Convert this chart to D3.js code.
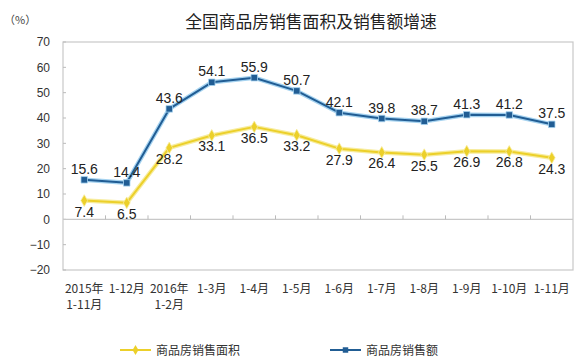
<!DOCTYPE html>
<html>
<head>
<meta charset="utf-8">
<script src="https://cdn.jsdelivr.net/npm/d3@7"></script>
<style>
  body { margin: 0; background: #fff; }
  text { font-family: "Noto Sans CJK SC", "DejaVu Sans", sans-serif; }
</style>
</head>
<body>
<div id="chart"></div>
<script>
// categories and series
var categories = ['2015年\n1-11月', '1-12月', '2016年\n1-2月', '1-3月', '1-4月', '1-5月',
                  '1-6月', '1-7月', '1-8月', '1-9月', '1-10月', '1-11月'];
var areaGrowth = [7.4, 6.5, 28.2, 33.1, 36.5, 33.2, 27.9, 26.4, 25.5, 26.9, 26.8, 24.3];
var salesGrowth = [15.6, 14.4, 43.6, 54.1, 55.9, 50.7, 42.1, 39.8, 38.7, 41.3, 41.2, 37.5];
var yTicks = [-20, -10, 0, 10, 20, 30, 40, 50, 60, 70];

var width = 587, height = 361;
var margin = { left: 63, right: 14, top: 42, bottom: 91 };
var chartWidth = width - margin.left - margin.right;
var chartHeight = height - margin.top - margin.bottom;

var svg = d3.select('#chart').append('svg')
    .attr('width', width)
    .attr('height', height);

var xScale = d3.scaleBand().domain(d3.range(categories.length)).range([0, chartWidth]);
var yScale = d3.scaleLinear().domain([-20, 70]).range([chartHeight, 0]);
var cx = function(i) { return xScale(i) + xScale.bandwidth() / 2; };

// title and unit
svg.append('text')
    .attr('x', 311).attr('y', 28)
    .attr('text-anchor', 'middle')
    .attr('font-size', 16.8)
    .attr('fill', '#222')
    .text('全国商品房销售面积及销售额增速');

svg.append('text')
    .attr('x', 4).attr('y', 24)
    .attr('font-size', 11)
    .attr('fill', '#444')
    .text('（%）');

var g = svg.append('g')
    .attr('transform', 'translate(' + margin.left + ',' + margin.top + ')');

// plot border
g.append('rect')
    .attr('width', chartWidth).attr('height', chartHeight)
    .attr('fill', 'none')
    .attr('stroke', '#c8c8c8')
    .attr('stroke-width', 1.2);

// y axis
var yAxis = d3.axisLeft(yScale).tickValues(yTicks).tickSize(0).tickPadding(13);
var yG = g.append('g').attr('class', 'axis y').call(yAxis);
yG.select('.domain').remove();
yG.selectAll('text').attr('font-size', 12).attr('fill', '#333')
    .style('font-family', '"Liberation Sans", Arial, sans-serif');

g.selectAll('line.ytick')
    .data(yTicks)
    .enter().append('line')
    .attr('class', 'ytick')
    .attr('x1', 0).attr('x2', 3)
    .attr('y1', function(d) { return yScale(d); })
    .attr('y2', function(d) { return yScale(d); })
    .attr('stroke', '#bbb');

// zero line with category ticks
g.append('line')
    .attr('x1', 0).attr('x2', chartWidth)
    .attr('y1', yScale(0)).attr('y2', yScale(0))
    .attr('stroke', '#c8c8c8').attr('stroke-width', 1.2);

g.selectAll('line.xtick')
    .data(d3.range(1, categories.length))
    .enter().append('line')
    .attr('class', 'xtick')
    .attr('x1', function(i) { return xScale(i); })
    .attr('x2', function(i) { return xScale(i); })
    .attr('y1', yScale(0)).attr('y2', yScale(0) - 4)
    .attr('stroke', '#bbb');

// category labels below the plot, centred, split on line breaks
g.selectAll('text.xlab')
    .data(categories)
    .enter().append('text')
    .attr('class', 'xlab')
    .attr('text-anchor', 'middle')
    .attr('font-size', 12)
    .attr('fill', '#333')
    .each(function(d, i) {
        var t = d3.select(this);
        d.split('\n').forEach(function(s, k) {
            t.append('tspan')
                .attr('x', cx(i))
                .attr('y', chartHeight + 23 + k * 16)
                .text(s);
        });
    });

// lines
var line = d3.line()
    .x(function(d, i) { return cx(i); })
    .y(function(d) { return yScale(d); });

function drawSeries(values, dark, light, marker, labelDy) {
    var sg = g.append('g');
    sg.append('path').datum(values)
        .attr('d', line).attr('fill', 'none')
        .attr('stroke', light).attr('stroke-width', 4.5)
        .attr('stroke-linejoin', 'round');
    sg.append('path').datum(values)
        .attr('d', line).attr('fill', 'none')
        .attr('stroke', dark).attr('stroke-width', 2)
        .attr('stroke-linejoin', 'round');

    sg.selectAll('path.marker')
        .data(values)
        .enter().append('path')
        .attr('class', 'marker')
        .attr('d', d3.symbol().type(marker).size(marker === d3.symbolSquare ? 42 : 40))
        .attr('transform', function(d, i) { return 'translate(' + cx(i) + ',' + yScale(d) + ')'; })
        .attr('fill', dark)
        .attr('stroke', light).attr('stroke-width', 0.8);

    sg.selectAll('text.vlab')
        .data(values)
        .enter().append('text')
        .attr('class', 'vlab')
        .attr('x', function(d, i) { return cx(i); })
        .attr('y', function(d) { return yScale(d) + labelDy; })
        .attr('text-anchor', 'middle')
        .attr('font-size', 14)
        .attr('fill', '#222')
        .style('font-family', '"Liberation Sans", Arial, sans-serif')
        .text(function(d) { return d.toFixed(1); });
}

drawSeries(areaGrowth, '#ecd02a', '#f7ec9e', d3.symbolDiamond, 16);
drawSeries(salesGrowth, '#215d94', '#a6d3f0', d3.symbolSquare, -6);

// legend
var legend = [
    { name: '商品房销售面积', dark: '#ecd02a', marker: d3.symbolDiamond, x: 120 },
    { name: '商品房销售额', dark: '#215d94', marker: d3.symbolSquare, x: 330 }
];
var lg = svg.selectAll('g.legend')
    .data(legend)
    .enter().append('g')
    .attr('class', 'legend')
    .attr('transform', function(d) { return 'translate(' + d.x + ',350)'; });

lg.append('line')
    .attr('x1', 0).attr('x2', 31)
    .attr('stroke', function(d) { return d.dark; })
    .attr('stroke-width', 2);
lg.append('path')
    .attr('d', function(d) { return d3.symbol().type(d.marker).size(30)(); })
    .attr('transform', 'translate(15.5,0)')
    .attr('fill', function(d) { return d.dark; });
lg.append('text')
    .attr('x', 36).attr('y', 4.5)
    .attr('font-size', 12)
    .attr('fill', '#333')
    .text(function(d) { return d.name; });
</script>
</body>
</html>
